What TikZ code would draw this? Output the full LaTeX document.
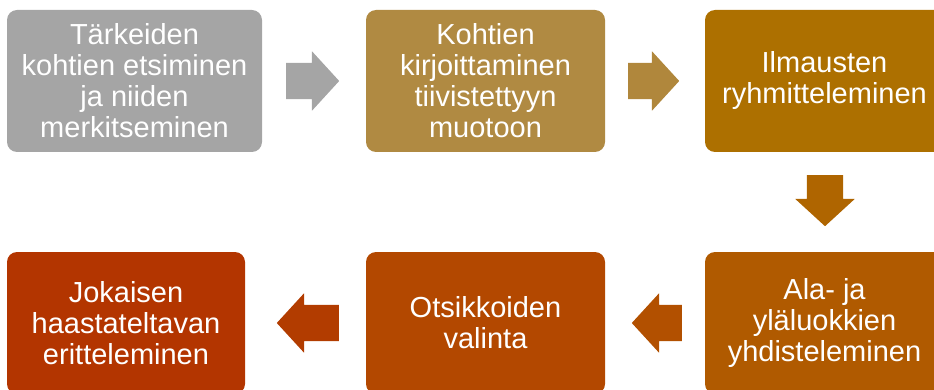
\documentclass[tikz,border=0pt]{standalone}
\usepackage{fontspec}
\setmainfont{Liberation Sans}
\usetikzlibrary{shapes.arrows}
\definecolor{c1}{HTML}{A5A5A5}
\definecolor{c2}{HTML}{B08A42}
\definecolor{c3}{HTML}{AD7000}
\definecolor{c4}{HTML}{B05A00}
\definecolor{c5}{HTML}{B34800}
\definecolor{c6}{HTML}{B33500}
\definecolor{a2}{HTML}{B0873C}
\definecolor{a3}{HTML}{AF6500}
\definecolor{a4}{HTML}{B25000}
\definecolor{a5}{HTML}{B23C00}
\begin{document}
\begin{tikzpicture}[x=1pt, y=-1pt]
        \tikzstyle{stage} = [rounded corners=10pt, minimum height=142pt, align=center, inner sep=0pt, text=white, font=\fontsize{29}{31}\selectfont]
        \tikzstyle{blockarrow} = [single arrow, anchor=tail, inner xsep=0pt, inner ysep=18pt, single arrow head extend=11.5pt, single arrow tip angle=95]
        \useasboundingbox (0,0) rectangle (934,390);
        \clip (0,0) rectangle (934,390);
        \node[stage, fill=c1, minimum width=255pt] (S1) at (134.5, 81) {Tärkeiden\\kohtien etsiminen\\ja niiden\\merkitseminen};
        \node[stage, fill=c2, minimum width=239pt] (S2) at (485.5, 81) {Kohtien\\kirjoittaminen\\tiivistettyyn\\muotoon};
        \node[stage, fill=c3, minimum width=239pt] (S3) at (824.5, 81) {Ilmausten\\ryhmitteleminen};
        \node[stage, fill=c4, minimum width=239pt] (S4) at (824.5, 323) {Ala- ja\\yläluokkien\\yhdisteleminen};
        \node[stage, fill=c5, minimum width=239pt] (S5) at (485.5, 323) {Otsikkoiden\\valinta};
        \node[stage, fill=c6, minimum width=238pt] (S6) at (126, 323) {Jokaisen\\haastateltavan\\eritteleminen};
        \node[blockarrow, fill=c1, minimum height=53pt] (A1) at (286, 81) {};
        \node[blockarrow, fill=a2, minimum height=51pt] (A2) at (628, 81) {};
        \node[blockarrow, fill=a3, minimum height=51pt, inner xsep=18pt, inner ysep=0pt, shape border rotate=270] (A3) at (825, 175) {};
        \node[blockarrow, fill=a4, minimum height=50pt, shape border rotate=180] (A4) at (682, 323) {};
        \node[blockarrow, fill=a5, minimum height=62pt, shape border rotate=180] (A5) at (339, 323) {};
      \end{tikzpicture}
\end{document}
